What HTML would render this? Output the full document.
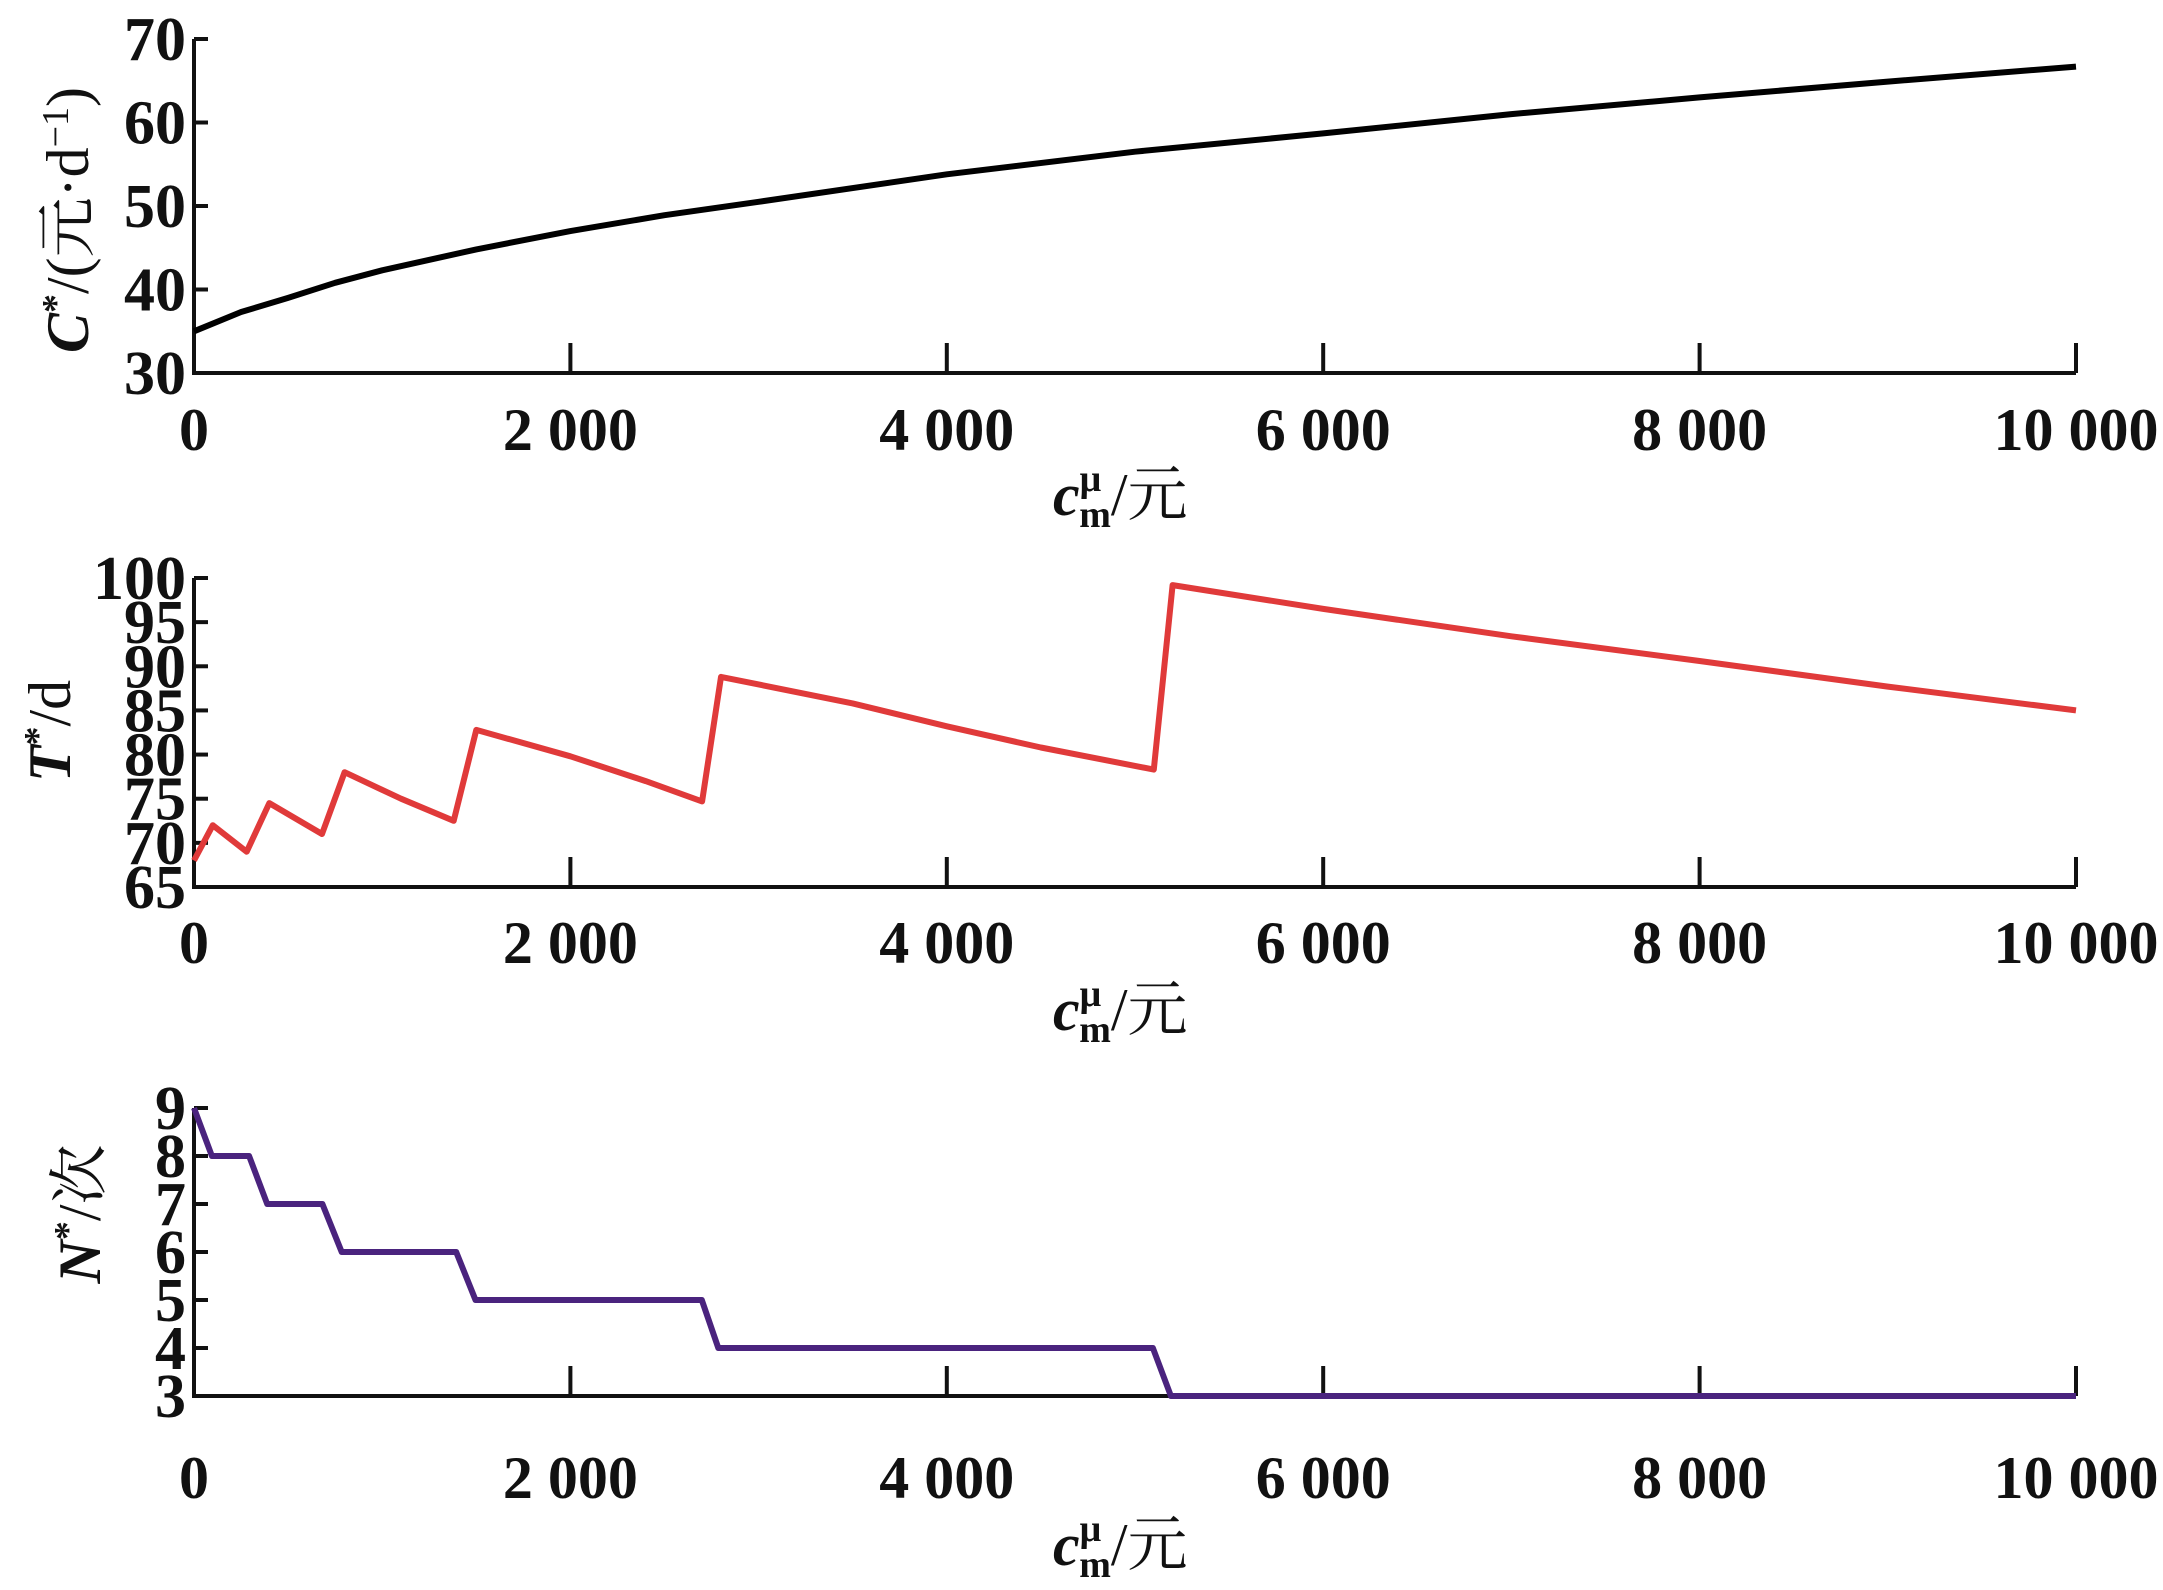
<!DOCTYPE html>
<html><head><meta charset="utf-8"><style>
html,body{margin:0;padding:0;background:#fff;}
svg{display:block;}
text{font-family:"Liberation Serif","Noto Serif CJK SC",serif;fill:#111;}
</style></head><body>
<svg id="chart" width="2163" height="1590" viewBox="0 0 2163 1590" xmlns="http://www.w3.org/2000/svg"></svg>
<script>
const xTicks=[0,2000,4000,6000,8000,10000];
const xTickLabels=["0","2 000","4 000","6 000","8 000","10 000"];
const cX=[0,250,500,750,1000,1500,2000,2500,3000,4000,5000,6000,7000,8000,9000,10000];
const cY=[35,37.3,39,40.8,42.3,44.8,47,48.9,50.5,53.8,56.5,58.7,61,63,64.9,66.7];
const cTicks=[30,40,50,60,70];
const tX=[0,100,280,400,680,800,1100,1380,1500,2000,2400,2700,2800,3500,4000,4500,5100,5200,6000,7000,8000,9000,10000];
const tY=[68,72,69,74.5,71,78,75,72.5,82.8,79.8,77,74.7,88.8,85.8,83.2,80.8,78.3,99.2,96.5,93.4,90.6,87.7,85];
const tTicks=[65,70,75,80,85,90,95,100];
const nX=[0,95,293,389,682,785,1393,1496,2698,2786,5095,5191,10000];
const nY=[9,8,8,7,7,6,6,5,5,4,4,3,3];
const nTicks=[3,4,5,6,7,8,9];

const svg=document.getElementById('chart');
const NS='http://www.w3.org/2000/svg';
const X0=194,X1=2076;
function xs(v){return X0+(v/10000)*(X1-X0);}
function mk(tag,attrs,parent){const e=document.createElementNS(NS,tag);for(const k in attrs)e.setAttribute(k,attrs[k]);(parent||svg).appendChild(e);return e;}

function panel(name,yMin,yMax,yTop,yBot,ticks,xs_,ys_,color,tickLabelY,xlabelY,ylabel,ylx,yly){
  const g=mk('g',{});
  
  
  const ysc=v=>yBot-(v-yMin)/(yMax-yMin)*(yBot-yTop);
  const ax=mk('path',{d:`M${X0},${yTop} V${yBot} H${X1}`,stroke:'#111','stroke-width':4,fill:'none'},g);
  
  
  ticks.forEach(t=>{
    const y=ysc(t);
    const tk=mk('line',{x1:X0,x2:X0+14,y1:y,y2:y,stroke:'#111','stroke-width':4},g);
    
    
    const tl=mk('text',{x:X0-8,y:y+21,'text-anchor':'end','font-size':62,'font-weight':'bold'},g);
    tl.textContent=String(t);
    
    
  });
  xTicks.forEach((t,i)=>{
    const x=xs(t);
    if(i>0){const tk=mk('line',{x1:x,x2:x,y1:yBot,y2:yBot-30,stroke:'#111','stroke-width':4},g);
      
      }
    const tl=mk('text',{x:x,y:tickLabelY,'text-anchor':'middle','font-size':60,'font-weight':'bold'},g);
    tl.textContent=xTickLabels[i];
    
    
  });
  const d=xs_.map((v,i)=>(i?'L':'M')+xs(v).toFixed(1)+','+ysc(ys_[i]).toFixed(1)).join(' ');
  const ln=mk('path',{d:d,stroke:color,'stroke-width':6,fill:'none','stroke-linejoin':'round'},g);
  
  
  const xl=mk('text',{x:1053,y:xlabelY,'font-size':60,'font-weight':'bold'},g);
  xl.innerHTML='<tspan font-style="italic">c</tspan><tspan font-size="38" dy="-24">μ</tspan><tspan font-size="38" dx="-22" dy="36">m</tspan><tspan dy="-12" font-weight="normal">/元</tspan>';
  
  
  const yl=mk('text',{x:0,y:0,'text-anchor':'middle','font-size':60,'font-weight':'bold',transform:`translate(${ylx},${yly}) rotate(-90)`},g);
  yl.innerHTML=ylabel;
  
  
}
panel('cost',30,70,39,373,cTicks,cX,cY,'#000',450,515,'<tspan font-style="italic">C</tspan><tspan font-size="38" dy="-20">*</tspan><tspan dy="20" font-weight="normal">/(元·d</tspan><tspan font-size="38" dy="-20" font-weight="normal">−1</tspan><tspan dy="20" font-weight="normal">)</tspan>',88,220);
panel('period',65,100,578,887,tTicks,tX,tY,'#e03a3a',963,1030,'<tspan font-style="italic">T</tspan><tspan font-size="38" dy="-20">*</tspan><tspan dy="20" font-weight="normal">/d</tspan>',70,731);
panel('count',3,9,1108,1396,nTicks,nX,nY,'#4a237e',1498,1565,'<tspan font-style="italic">N</tspan><tspan font-size="38" dy="-20">*</tspan><tspan dy="20" font-weight="normal">/次</tspan>',100,1214);
</script>
</body></html>
